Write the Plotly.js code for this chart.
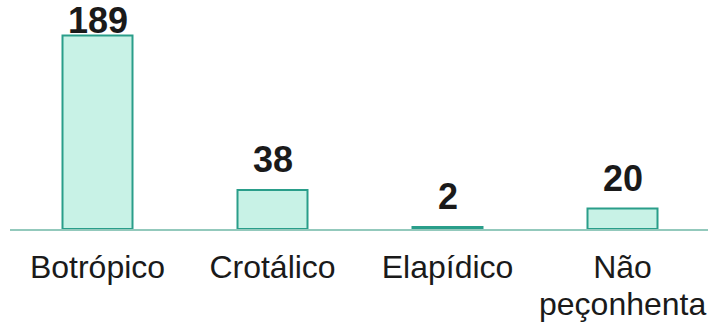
<!DOCTYPE html>
<html>
<head>
<meta charset="utf-8">
<script src="https://cdn.plot.ly/plotly-3.0.1.min.js"></script>
<style>html,body{margin:0;padding:0;background:#fff;}#chart{width:708px;height:323px;}</style>
</head>
<body>
<div id="chart"></div>
<script>
var categories = ["Botrópico", "Crotálico", "Elapídico", "Não peçonhenta"];
var values = [189, 38, 2, 20];
var valueLabels = ["189", "38", "2", "20"];

var yMax = 223.6;
var plotH = 229;
var labelFont = {family: 'Liberation Sans, Arial, sans-serif', size: 32, color: '#1a1a1a'};

var annotations = values.map(function (v, i) {
  var pxTop = plotH * (1 - v / yMax);
  var shift = Math.min(9, pxTop - 42);
  return {
    x: i, y: v, xref: 'x', yref: 'y',
    text: '<b>' + valueLabels[i] + '</b>',
    showarrow: false, yanchor: 'bottom', yshift: shift, borderpad: 0,
    font: {family: 'Liberation Sans, Arial, sans-serif', size: 36, color: '#1a1a1a'}
  };
});

// first word of the long label goes on the tick, the rest on a tighter second line
var tickText = categories.map(function (c) {
  return c.indexOf(' ') > 0 && c.length > 10 ? c.split(' ')[0] : c;
});
categories.forEach(function (c, i) {
  if (c.indexOf(' ') > 0 && c.length > 10) {
    annotations.push({
      x: i, xref: 'x', y: 0, yref: 'paper',
      text: c.split(' ').slice(1).join(' '),
      showarrow: false, yanchor: 'top', yshift: -56, borderpad: 0,
      font: labelFont
    });
  }
});

var trace = {
  type: 'bar',
  x: [0, 1, 2, 3],
  y: values,
  width: 0.4,
  marker: {color: '#c8f2e6', line: {color: '#2a9e8a', width: 2}},
  hoverinfo: 'none'
};

var layout = {
  width: 708, height: 323,
  margin: {l: 10, r: 0, t: 0, b: 94, pad: 0},
  paper_bgcolor: '#ffffff', plot_bgcolor: '#ffffff',
  showlegend: false,
  xaxis: {
    range: [-0.5, 3.5 - 2 / 175],
    tickmode: 'array', tickvals: [0, 1, 2, 3], ticktext: tickText,
    showgrid: false, zeroline: false,
    showline: true, linecolor: '#93c9bc', linewidth: 2, layer: 'below traces',
    ticks: '', ticklabelstandoff: 9,
    tickfont: labelFont
  },
  yaxis: {
    range: [0, yMax], visible: false, showgrid: false, zeroline: false, fixedrange: true
  },
  annotations: annotations
};

Plotly.newPlot('chart', [trace], layout, {staticPlot: true, displayModeBar: false});
</script>
</body>
</html>
